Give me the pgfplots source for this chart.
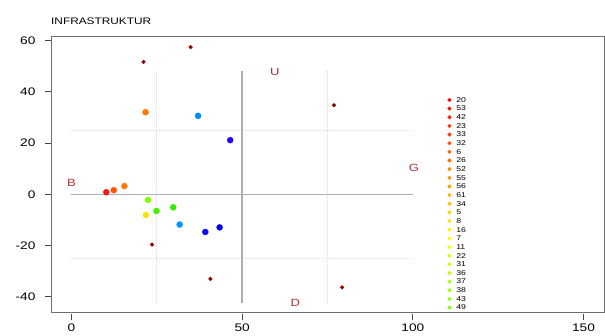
\documentclass[border=0pt]{standalone}
\usepackage{pgfplots}
\pgfplotsset{compat=1.18}
\usepackage{fontspec}
\setmainfont[FakeStretch=1.25]{Liberation Sans}
\definecolor{boxc}{RGB}{110,110,110}
\definecolor{tickc}{RGB}{70,70,70}
\definecolor{linec}{RGB}{175,175,175}
\definecolor{dotc}{RGB}{220,220,220}
\definecolor{letc}{RGB}{175,50,50}
\definecolor{dred}{RGB}{139,0,0}
\definecolor{p1}{RGB}{255,20,20}
\definecolor{p2}{RGB}{255,85,0}
\definecolor{p3}{RGB}{255,120,0}
\definecolor{p4}{RGB}{255,225,0}
\definecolor{p5}{RGB}{128,255,0}
\definecolor{p6}{RGB}{68,240,0}
\definecolor{p7}{RGB}{50,235,0}
\definecolor{p8}{RGB}{0,150,255}
\definecolor{p9}{RGB}{0,140,255}
\definecolor{p10}{RGB}{10,10,255}
\definecolor{p11}{RGB}{0,0,245}
\definecolor{p12}{RGB}{40,0,255}
\definecolor{c1}{Hsb}{0,1,1}
\definecolor{c2}{Hsb}{3.8,1,1}
\definecolor{c3}{Hsb}{7.6,1,1}
\definecolor{c4}{Hsb}{11.4,1,1}
\definecolor{c5}{Hsb}{15.2,1,1}
\definecolor{c6}{Hsb}{19,1,1}
\definecolor{c7}{Hsb}{22.8,1,1}
\definecolor{c8}{Hsb}{26.6,1,1}
\definecolor{c9}{Hsb}{30.4,1,1}
\definecolor{c10}{Hsb}{34.2,1,1}
\definecolor{c11}{Hsb}{38,1,1}
\definecolor{c12}{Hsb}{41.8,1,1}
\definecolor{c13}{Hsb}{45.6,1,1}
\definecolor{c14}{Hsb}{49.4,1,1}
\definecolor{c15}{Hsb}{53.2,1,1}
\definecolor{c16}{Hsb}{57,1,1}
\definecolor{c17}{Hsb}{60.8,1,1}
\definecolor{c18}{Hsb}{64.6,1,1}
\definecolor{c19}{Hsb}{68.4,1,1}
\definecolor{c20}{Hsb}{72.2,1,1}
\definecolor{c21}{Hsb}{76,1,1}
\definecolor{c22}{Hsb}{79.8,1,1}
\definecolor{c23}{Hsb}{83.6,1,1}
\definecolor{c24}{Hsb}{87.4,1,1}
\definecolor{c25}{Hsb}{91.2,1,1}
\begin{document}
\begin{tikzpicture}
\useasboundingbox (0,0) rectangle (605bp,336bp);
\node[anchor=base west, inner sep=0pt, font=\fontsize{9.5}{11}\selectfont] at (51bp,311bp) {INFRASTRUKTUR};
\begin{axis}[
  at={(51bp,24bp)}, anchor=south west,
  scale only axis, width=553bp, height=275.3bp,
  xmin=-6, xmax=156, ymin=-45.9, ymax=61.44,
  clip=false,
  axis line style={boxc, line width=0.9bp},
  xtick={0,50,100,150}, ytick={-40,-20,0,20,40,60},
  xtick pos=bottom, ytick pos=left,
  tick align=outside, major tick length=6bp,
  tick style={tickc, line width=0.8bp},
  x tick style={yshift=-2.5bp},
  xticklabel style={yshift=-2.5bp},
  yticklabel style={xshift=-6bp},
  ticklabel style={font=\fontsize{11}{13}\selectfont},
  /pgf/number format/assume math mode=true,
  legend image code/.code={\draw[#1] plot coordinates {(0pt,0pt)};},
  legend style={at={(axis cs:110.2,37.7)}, anchor=north west, draw=none, fill=none,
    inner sep=0pt, outer sep=0pt, font=\fontsize{7}{8}\selectfont,
    nodes={inner sep=0pt, text height=4.7pt, text depth=0pt},
    row sep=3.97bp,
    /tikz/every odd column/.append style={column sep=5bp}},
  legend cell align=left,
]
% reference lines
\addplot[forget plot, dotc, line width=1bp, densely dotted] coordinates {(25,-42.5) (25,48)};
\addplot[forget plot, dotc, line width=1bp, densely dotted] coordinates {(75,-42.5) (75,48)};
\addplot[forget plot, dotc, line width=1bp, densely dotted] coordinates {(0,25) (100,25)};
\addplot[forget plot, dotc, line width=1bp, densely dotted] coordinates {(0,-25) (100,-25)};
\addplot[forget plot, linec, line width=1bp] coordinates {(0,0) (100,0)};
\addplot[forget plot, linec, line width=1.5bp] coordinates {(50,-42.5) (50,48)};
% points
\addplot[forget plot, only marks, mark=*, mark size=1.9bp, dred, mark options={draw=dred, fill=dred}] coordinates {
(34.9,57.4) (21.1,51.6) (76.9,34.7) (79.3,-36.3) (23.6,-19.6) (40.7,-33.0)};
\addplot[forget plot, only marks, mark=*, mark size=3bp, p1] coordinates {(10.2,0.8)};
\addplot[forget plot, only marks, mark=*, mark size=3bp, p2] coordinates {(12.4,1.6)};
\addplot[forget plot, only marks, mark=*, mark size=3bp, p3] coordinates {(15.5,3.2) (21.7,32.0)};
\addplot[forget plot, only marks, mark=*, mark size=3bp, p4] coordinates {(21.8,-8.1)};
\addplot[forget plot, only marks, mark=*, mark size=3bp, p5] coordinates {(22.4,-2.2)};
\addplot[forget plot, only marks, mark=*, mark size=3bp, p6] coordinates {(24.9,-6.5)};
\addplot[forget plot, only marks, mark=*, mark size=3bp, p7] coordinates {(29.8,-5.1)};
\addplot[forget plot, only marks, mark=*, mark size=3bp, p8] coordinates {(31.7,-11.8)};
\addplot[forget plot, only marks, mark=*, mark size=3bp, p9] coordinates {(37.1,30.6)};
\addplot[forget plot, only marks, mark=*, mark size=3bp, p10] coordinates {(39.2,-14.7)};
\addplot[forget plot, only marks, mark=*, mark size=3bp, p11] coordinates {(43.4,-12.9)};
\addplot[forget plot, only marks, mark=*, mark size=3bp, p12] coordinates {(46.5,21.1)};
% letters
\node[letc, font=\fontsize{10.5}{12}\selectfont] at (axis cs:0,4.3) {B};
\node[letc, font=\fontsize{10.5}{12}\selectfont] at (axis cs:59.6,47.8) {U};
\node[letc, font=\fontsize{10.5}{12}\selectfont] at (axis cs:100.3,10.4) {G};
\node[letc, font=\fontsize{10.5}{12}\selectfont] at (axis cs:65.6,-42.5) {D};
% legend
\addlegendimage{only marks, mark=*, mark size=1.8bp, c1}\addlegendentry{20}
\addlegendimage{only marks, mark=*, mark size=1.8bp, c2}\addlegendentry{53}
\addlegendimage{only marks, mark=*, mark size=1.8bp, c3}\addlegendentry{42}
\addlegendimage{only marks, mark=*, mark size=1.8bp, c4}\addlegendentry{23}
\addlegendimage{only marks, mark=*, mark size=1.8bp, c5}\addlegendentry{33}
\addlegendimage{only marks, mark=*, mark size=1.8bp, c6}\addlegendentry{32}
\addlegendimage{only marks, mark=*, mark size=1.8bp, c7}\addlegendentry{6}
\addlegendimage{only marks, mark=*, mark size=1.8bp, c8}\addlegendentry{26}
\addlegendimage{only marks, mark=*, mark size=1.8bp, c9}\addlegendentry{52}
\addlegendimage{only marks, mark=*, mark size=1.8bp, c10}\addlegendentry{55}
\addlegendimage{only marks, mark=*, mark size=1.8bp, c11}\addlegendentry{56}
\addlegendimage{only marks, mark=*, mark size=1.8bp, c12}\addlegendentry{61}
\addlegendimage{only marks, mark=*, mark size=1.8bp, c13}\addlegendentry{34}
\addlegendimage{only marks, mark=*, mark size=1.8bp, c14}\addlegendentry{5}
\addlegendimage{only marks, mark=*, mark size=1.8bp, c15}\addlegendentry{8}
\addlegendimage{only marks, mark=*, mark size=1.8bp, c16}\addlegendentry{16}
\addlegendimage{only marks, mark=*, mark size=1.8bp, c17}\addlegendentry{7}
\addlegendimage{only marks, mark=*, mark size=1.8bp, c18}\addlegendentry{11}
\addlegendimage{only marks, mark=*, mark size=1.8bp, c19}\addlegendentry{22}
\addlegendimage{only marks, mark=*, mark size=1.8bp, c20}\addlegendentry{31}
\addlegendimage{only marks, mark=*, mark size=1.8bp, c21}\addlegendentry{36}
\addlegendimage{only marks, mark=*, mark size=1.8bp, c22}\addlegendentry{37}
\addlegendimage{only marks, mark=*, mark size=1.8bp, c23}\addlegendentry{38}
\addlegendimage{only marks, mark=*, mark size=1.8bp, c24}\addlegendentry{43}
\addlegendimage{only marks, mark=*, mark size=1.8bp, c25}\addlegendentry{49}
\end{axis}
\end{tikzpicture}
\end{document}
